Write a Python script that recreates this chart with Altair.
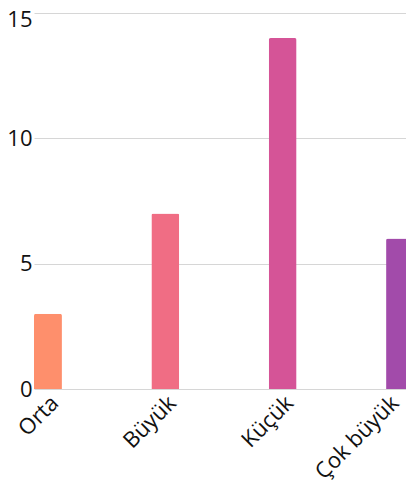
import altair as alt
import pandas as pd

categories = ["Orta", "Büyük", "Küçük", "Çok büyük"]
values = [3, 7, 14, 6]
colors = ["#FE8F6C", "#F06D84", "#D55497", "#A24BAA"]
y_ticks = [0, 5, 10, 15]

df = pd.DataFrame({"cat": categories, "val": values})

chart = alt.Chart(df).mark_bar(cornerRadiusTopLeft=2, cornerRadiusTopRight=2).encode(
    x=alt.X("cat:N", sort=categories, title=None,
            scale=alt.Scale(paddingInner=0.762, paddingOuter=0),
            axis=alt.Axis(labelAngle=-45, labelAlign="right", labelBaseline="top",
                          labelFontSize=22, labelFont="Open Sans", labelColor="#111",
                          domain=False, ticks=False, labelPadding=3, grid=False,
                          labelOffset={"condition": {"test": "datum.value === 'Çok büyük'", "value": -12}, "value": 0})),
    y=alt.Y("val:Q", title=None,
            scale=alt.Scale(domain=[0, 15], nice=False),
            axis=alt.Axis(values=y_ticks, labelFontSize=22, labelFont="Open Sans",
                          labelColor="#111", domain=False, ticks=False, labelPadding=2,
                          labelOffset={"condition": {"test": "datum.value === 15", "value": 6}, "value": 0},
                          gridColor="#d6d6d6", gridWidth=1)),
    color=alt.Color("cat:N", scale=alt.Scale(domain=categories, range=colors), legend=None),
).properties(
    width=380, height=376,
    autosize=alt.AutoSizeParams(type="none"),
    padding={"left": 26, "top": 5, "right": -8, "bottom": 96},
).configure_view(stroke=None)

chart.save("out.html", embed_options={"renderer": "svg", "actions": False})
